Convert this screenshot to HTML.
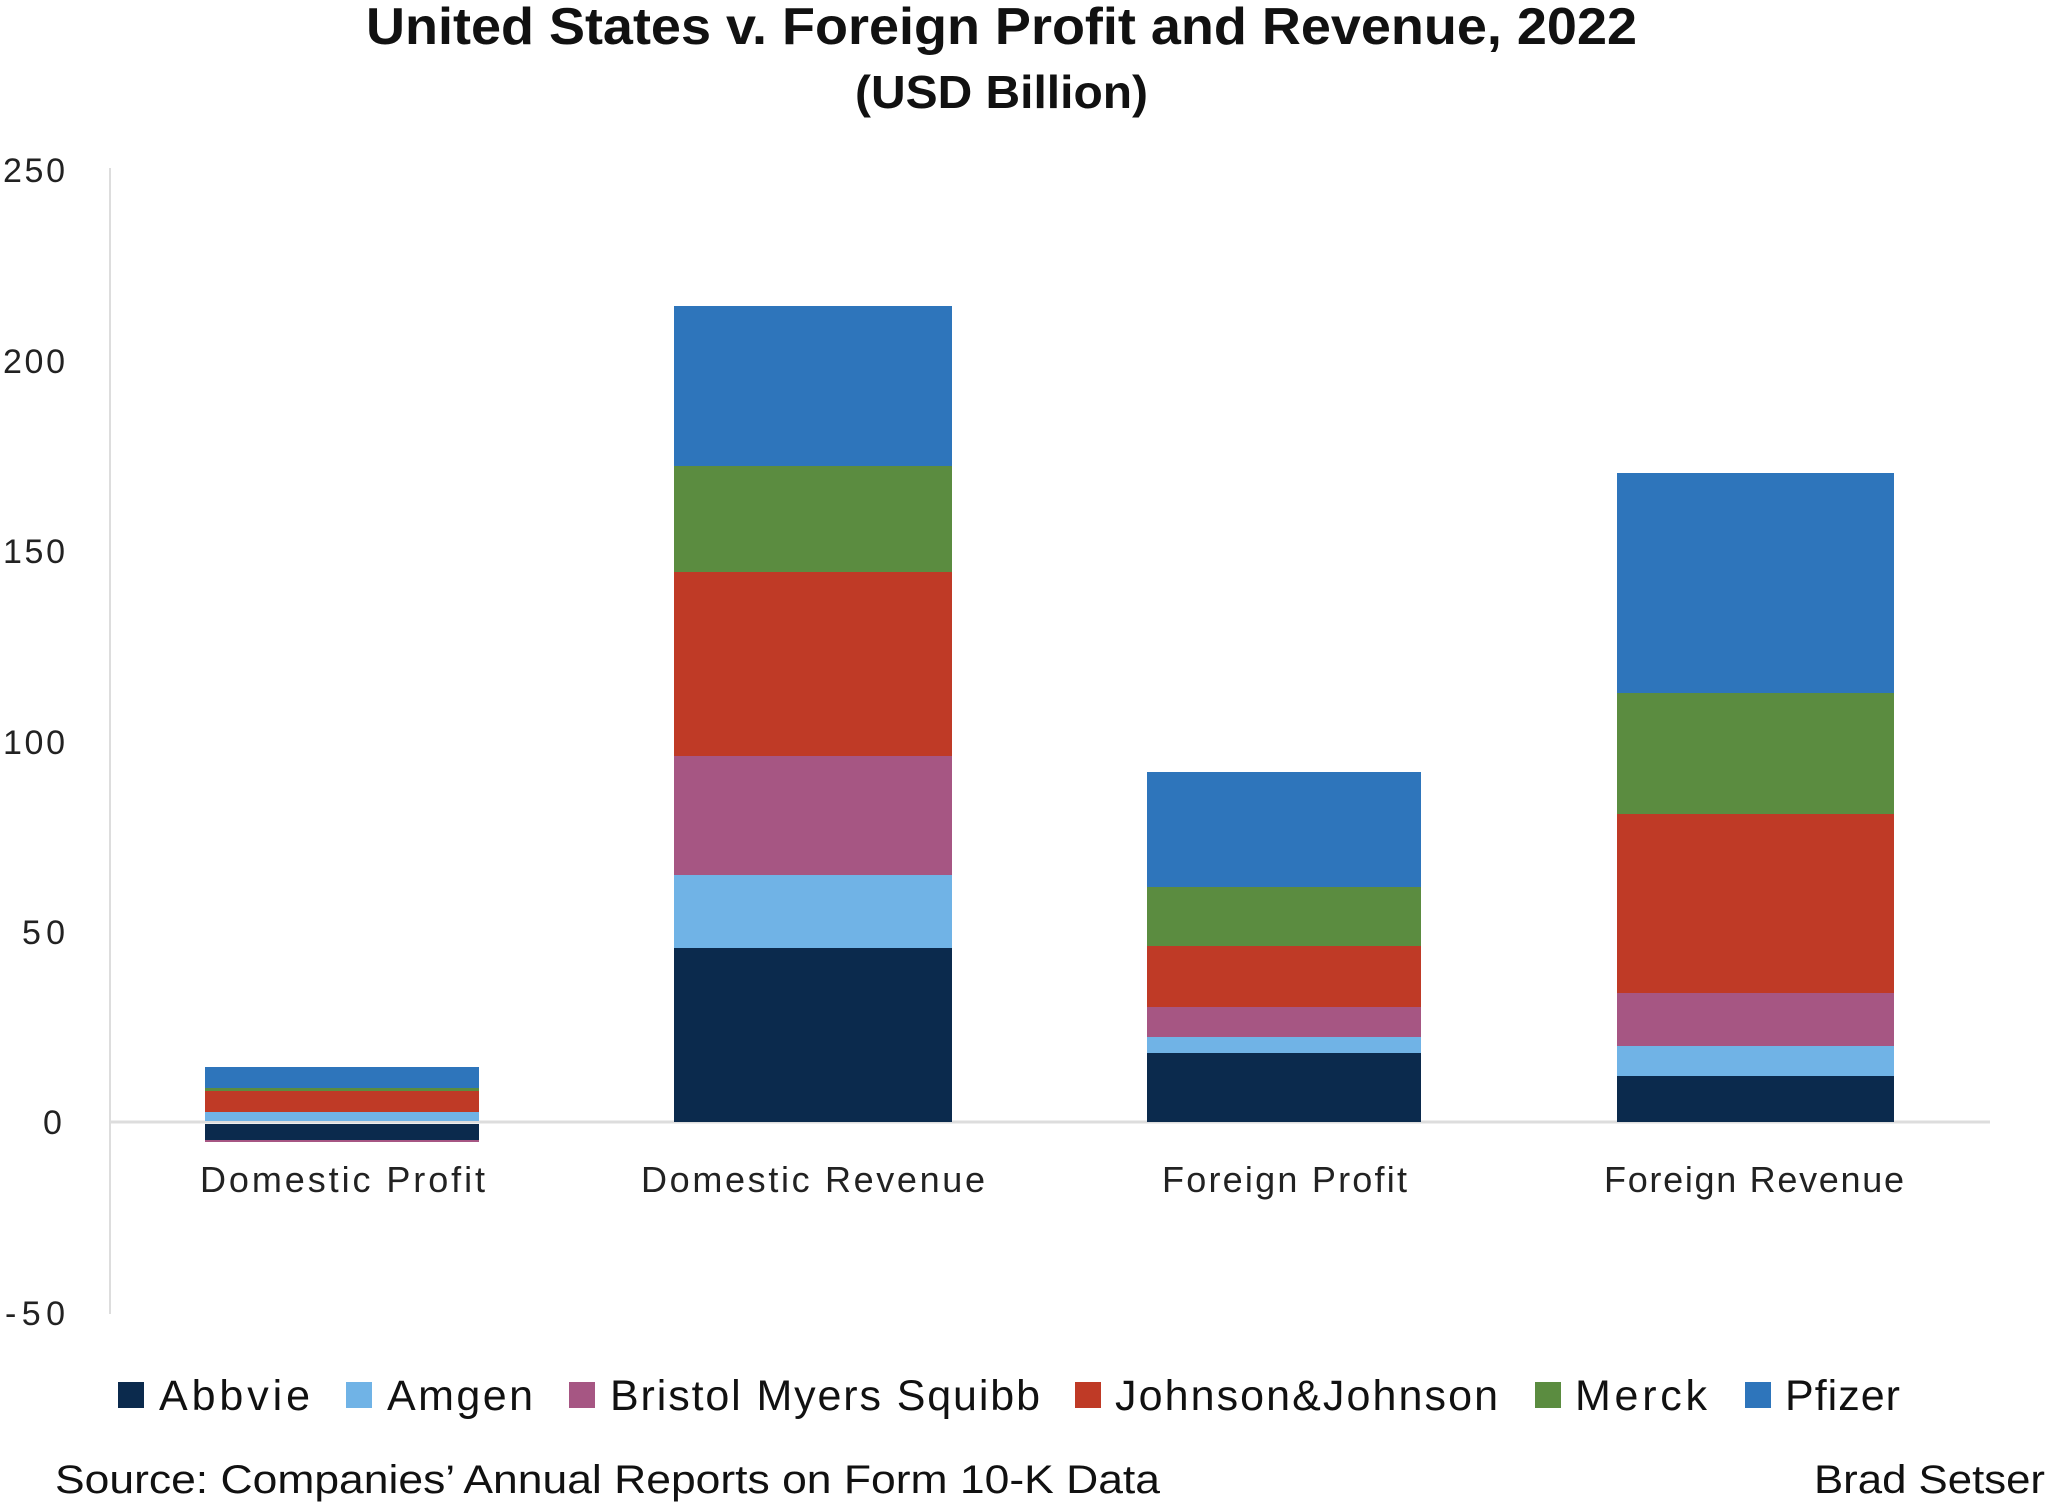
<!DOCTYPE html>
<html><head><meta charset="utf-8"><style>
body{margin:0;background:#fff;}
svg{display:block;font-family:"Liberation Sans",sans-serif;}
</style></head><body>
<svg width="2048" height="1508" viewBox="0 0 2048 1508" xmlns="http://www.w3.org/2000/svg">
<rect width="2048" height="1508" fill="#fff"/>
<text x="366" y="44" font-size="52" font-weight="bold" fill="#111" textLength="1271" lengthAdjust="spacingAndGlyphs">United States v. Foreign Profit and Revenue, 2022</text>
<text x="855" y="108" font-size="46" font-weight="bold" fill="#111" textLength="293" lengthAdjust="spacingAndGlyphs">(USD Billion)</text>
<g font-size="34" fill="#222" lengthAdjust="spacingAndGlyphs">
<text x="3" y="182" textLength="62">250</text>
<text x="3" y="373" textLength="62">200</text>
<text x="3" y="563" textLength="62">150</text>
<text x="3" y="754" textLength="62">100</text>
<text x="22" y="944" textLength="43">50</text>
<text x="43" y="1134" textLength="22">0</text>
<text x="5" y="1325" textLength="60">-50</text>
</g>
<line x1="110" y1="168" x2="110" y2="1314" stroke="#ddd" stroke-width="2"/>
<line x1="110" y1="1122" x2="1990" y2="1122" stroke="#ddd" stroke-width="3"/>
<!-- Domestic Profit -->
<rect x="205" y="1067" width="274" height="21" fill="#2e75bb"/>
<rect x="205" y="1088" width="274" height="3" fill="#5b8c40"/>
<rect x="205" y="1091" width="274" height="21" fill="#bf3a26"/>
<rect x="205" y="1112" width="274" height="9" fill="#70b3e6"/>
<rect x="205" y="1124" width="274" height="16" fill="#0b2a4d"/>
<rect x="205" y="1140" width="274" height="2" fill="#a65683"/>
<!-- Domestic Revenue -->
<rect x="674" y="306" width="278" height="160" fill="#2e75bb"/>
<rect x="674" y="466" width="278" height="106" fill="#5b8c40"/>
<rect x="674" y="572" width="278" height="184" fill="#bf3a26"/>
<rect x="674" y="756" width="278" height="119" fill="#a65683"/>
<rect x="674" y="875" width="278" height="73" fill="#70b3e6"/>
<rect x="674" y="948" width="278" height="174" fill="#0b2a4d"/>
<!-- Foreign Profit -->
<rect x="1147" y="772" width="274" height="115" fill="#2e75bb"/>
<rect x="1147" y="887" width="274" height="59" fill="#5b8c40"/>
<rect x="1147" y="946" width="274" height="61" fill="#bf3a26"/>
<rect x="1147" y="1007" width="274" height="30" fill="#a65683"/>
<rect x="1147" y="1037" width="274" height="16" fill="#70b3e6"/>
<rect x="1147" y="1053" width="274" height="69" fill="#0b2a4d"/>
<!-- Foreign Revenue -->
<rect x="1617" y="473" width="277" height="220" fill="#2e75bb"/>
<rect x="1617" y="693" width="277" height="121" fill="#5b8c40"/>
<rect x="1617" y="814" width="277" height="179" fill="#bf3a26"/>
<rect x="1617" y="993" width="277" height="53" fill="#a65683"/>
<rect x="1617" y="1046" width="277" height="30" fill="#70b3e6"/>
<rect x="1617" y="1076" width="277" height="46" fill="#0b2a4d"/>
<g font-size="36" fill="#222" lengthAdjust="spacingAndGlyphs">
<text x="200" y="1192" textLength="285">Domestic Profit</text>
<text x="641" y="1192" textLength="344">Domestic Revenue</text>
<text x="1162" y="1192" textLength="245">Foreign Profit</text>
<text x="1604" y="1192" textLength="300">Foreign Revenue</text>
</g>
<g font-size="43" fill="#111" lengthAdjust="spacingAndGlyphs">
<rect x="118" y="1382" width="26" height="26" fill="#0b2a4d"/><text x="159" y="1410" textLength="151">Abbvie</text>
<rect x="346" y="1382" width="26" height="26" fill="#70b3e6"/><text x="387" y="1410" textLength="146">Amgen</text>
<rect x="569" y="1382" width="26" height="26" fill="#a65683"/><text x="610" y="1410" textLength="430">Bristol Myers Squibb</text>
<rect x="1075" y="1382" width="26" height="26" fill="#bf3a26"/><text x="1115" y="1410" textLength="383">Johnson&amp;Johnson</text>
<rect x="1535" y="1382" width="26" height="26" fill="#5b8c40"/><text x="1575" y="1410" textLength="132">Merck</text>
<rect x="1745" y="1382" width="26" height="26" fill="#2e75bb"/><text x="1785" y="1410" textLength="115">Pfizer</text>
</g>
<text x="55" y="1493" font-size="40" fill="#111" textLength="1105" lengthAdjust="spacingAndGlyphs">Source: Companies’ Annual Reports on Form 10-K Data</text>
<text x="1814" y="1493" font-size="40" fill="#111" textLength="231" lengthAdjust="spacingAndGlyphs">Brad Setser</text>
</svg>
</body></html>
